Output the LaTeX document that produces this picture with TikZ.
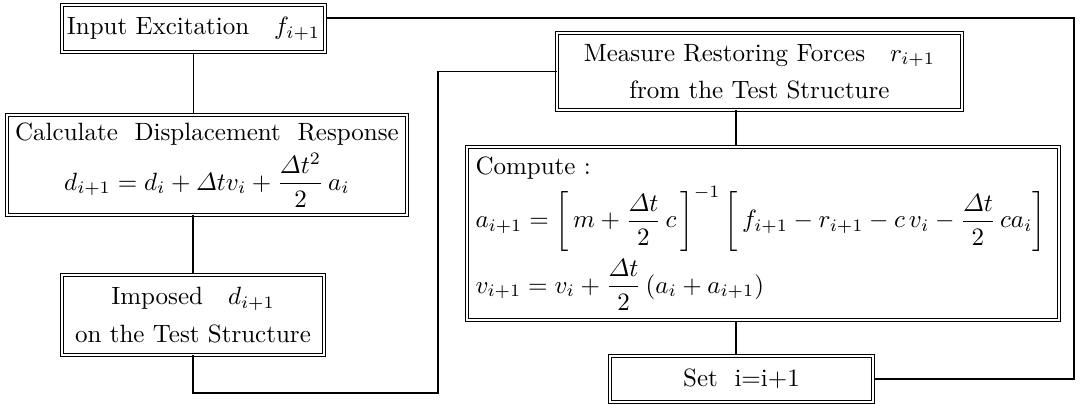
\documentclass[tikz,border=0pt]{standalone}
\usepackage{amsmath}
\usepackage{tikz}
\usetikzlibrary{positioning}

\begin{document}
\begin{tikzpicture}[
    x=0.4pt, y=-0.4pt,
    fsbox/.style={draw, double, double distance=0.8pt, line width=0.4pt, align=center, inner sep=2pt},
    fsline/.style={line width=0.6pt}
  ]
    \useasboundingbox (0,0) rectangle (1080,405);
    % left column
    \node[fsbox, minimum width=105.2pt, minimum height=18.8pt] (input) at (193.5,29) {Input Excitation\quad$f_{i+1}$};
    \node[fsbox, minimum width=160pt, minimum height=40pt] (calc) at (207,165) {Calculate\ \ Displacement\ \ Response\\[2pt]
      $d_{i+1}=d_i+\varDelta t v_i+\dfrac{\varDelta t^2}{2}\,a_i$};
    \node[fsbox, minimum width=104.8pt, minimum height=32pt] (imposed) at (193,315) {Imposed\quad$d_{i+1}$\\[3pt] on the Test Structure};
    % right column
    \node[fsbox, minimum width=162pt, minimum height=30.8pt] (measure) at (759.5,71.5) {Measure Restoring Forces\quad$r_{i+1}$\\[3pt] from the Test Structure};
    \node[fsbox, minimum width=236.8pt, minimum height=69.2pt, align=left, text width=230pt, inner xsep=3pt] (compute) at (763,233.5) {Compute :\\[2pt]
      \mbox{$a_{i+1}=\left[\,m+\dfrac{\varDelta t}{2}\,c\,\right]^{-1}\left[\,f_{i+1}-r_{i+1}-c\,v_i-\dfrac{\varDelta t}{2}\,c a_i\right]$}\\[2pt]
      \mbox{$v_{i+1}=v_i+\dfrac{\varDelta t}{2}\,(a_i+a_{i+1})$}};
    \node[fsbox, minimum width=105.2pt, minimum height=18.4pt] (set) at (741.5,379) {Set\ \ i=i+1};
    \coordinate (rc) at (736,0);
    \coordinate (lowL) at (438,393);
    \coordinate (topR) at (1074,18);
    % connectors
    \draw[fsline] (input.south) -- (input.south |- calc.north);
    \draw[fsline] (imposed.north |- calc.south) -- (imposed.north);
    \draw[fsline] (imposed.south) |- (lowL) |- (measure.west);
    \draw[fsline] (measure.south -| rc) -- (compute.north -| rc);
    \draw[fsline] (compute.south -| rc) -- (set.north -| rc);
    \draw[fsline] (input.east |- topR) -- (topR) |- (set.east);
  \end{tikzpicture}
\end{document}
